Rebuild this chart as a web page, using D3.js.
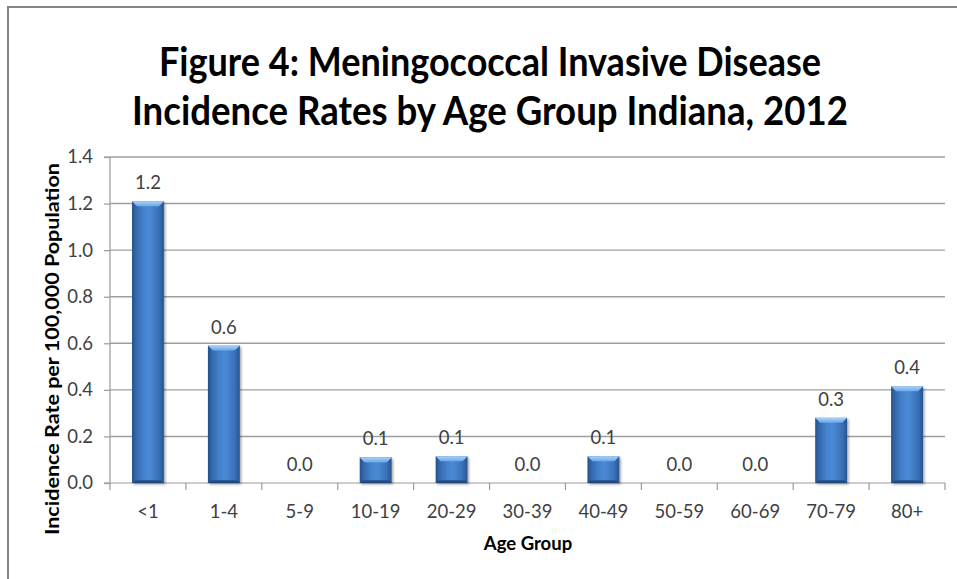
<!DOCTYPE html>
<html>
<head>
<meta charset="utf-8">
<script src="https://cdn.jsdelivr.net/npm/d3@7/dist/d3.min.js"></script>
<style>
  html, body { margin: 0; padding: 0; background: #fff; }
  svg { display: block; }
  text { font-family: Lato, "Open Sans", sans-serif; }
</style>
</head>
<body>
<svg id="chart" width="957" height="579"></svg>
<script>
// ---- data ----
const categories = ["<1", "1-4", "5-9", "10-19", "20-29", "30-39", "40-49", "50-59", "60-69", "70-79", "80+"];
const rates = [1.21, 0.59, 0.0, 0.11, 0.115, 0.0, 0.115, 0.0, 0.0, 0.28, 0.415];
const yTicks = [0, 0.2, 0.4, 0.6, 0.8, 1.0, 1.2, 1.4];
const titleLines = ["Figure 4: Meningococcal Invasive Disease", "Incidence Rates by Age Group Indiana, 2012"];
const xTitle = "Age Group";
const yTitle = "Incidence Rate per 100,000 Population";

// ---- layout ----
const W = 957, H = 579;
const plot = { left: 110, right: 945, top: 157, bottom: 483 };

const svg = d3.select("#chart");

const defs = svg.append("defs");
const grad = defs.append("linearGradient").attr("id", "barGrad")
  .attr("x1", "0%").attr("x2", "100%").attr("y1", "0%").attr("y2", "0%");
[["0%", "#24528f"], ["12%", "#3567aa"], ["35%", "#4382cd"], ["55%", "#4a8ad5"], ["85%", "#3a6fb6"], ["100%", "#26548f"]]
  .forEach(([o, c]) => grad.append("stop").attr("offset", o).attr("stop-color", c));
const topGrad = defs.append("linearGradient").attr("id", "topGrad")
  .attr("x1", "0%").attr("x2", "0%").attr("y1", "0%").attr("y2", "100%");
topGrad.append("stop").attr("offset", "0%").attr("stop-color", "#a9d2fa");
topGrad.append("stop").attr("offset", "100%").attr("stop-color", "#6aa6ea");
const botGrad = defs.append("linearGradient").attr("id", "botGrad")
  .attr("x1", "0%").attr("x2", "0%").attr("y1", "0%").attr("y2", "100%");
botGrad.append("stop").attr("offset", "0%").attr("stop-color", "#2a5a98");
botGrad.append("stop").attr("offset", "100%").attr("stop-color", "#1c4072");
const shadow = defs.append("filter").attr("id", "shadow")
  .attr("x", "-20%").attr("y", "-10%").attr("width", "150%").attr("height", "130%");
shadow.append("feDropShadow").attr("dx", 1.5).attr("dy", 1.5).attr("stdDeviation", 1.2)
  .attr("flood-color", "#000").attr("flood-opacity", 0.35);

// border
svg.append("path")
  .attr("d", `M8,${H} L8,7 L${W},7`)
  .attr("fill", "none").attr("stroke", "#868686").attr("stroke-width", 2);

// scales
const x = d3.scaleBand().domain(categories).range([plot.left, plot.right])
  .paddingInner(0.58).paddingOuter(0.29);
const y = d3.scaleLinear().domain([0, 1.4]).range([plot.bottom, plot.top]);

// gridlines
svg.append("g").selectAll("line").data(yTicks.filter(t => t > 0)).join("line")
  .attr("x1", plot.left).attr("x2", plot.right)
  .attr("y1", d => y(d)).attr("y2", d => y(d))
  .attr("stroke", "#9f9f9f").attr("stroke-width", 1.4);

// y axis
const yAxis = d3.axisLeft(y).tickValues(yTicks).tickFormat(d3.format(".1f")).tickSize(6).tickPadding(11);
const gy = svg.append("g").attr("transform", `translate(${plot.left},0)`).call(yAxis);
gy.select(".domain").attr("stroke", "#9a9a9a").attr("stroke-width", 1.2).attr("d", `M-6,${plot.top}H0V${plot.bottom}H-6`);
gy.selectAll(".tick line").attr("stroke", "#9a9a9a").attr("stroke-width", 1.2);
gy.selectAll(".tick text").attr("fill", "#404040").style("font-size", "18.5px").style("font-family", "Lato, sans-serif");

// x axis
const xAxis = d3.axisBottom(x).tickSize(0).tickPadding(0);
const gx = svg.append("g").attr("transform", `translate(0,${plot.bottom})`).call(xAxis);
gx.select(".domain").attr("stroke", "#9a9a9a").attr("stroke-width", 1.2).attr("d", `M${plot.left},0H${plot.right}`);
gx.selectAll(".tick text").attr("fill", "#404040").attr("dy", null).attr("y", 35)
  .style("font-size", "18.5px").style("font-family", "Lato, sans-serif");
// boundary tick marks
const bounds = d3.range(categories.length + 1).map(i => plot.left + i * (plot.right - plot.left) / categories.length);
gx.append("g").selectAll("line").data(bounds).join("line")
  .attr("x1", d => d).attr("x2", d => d).attr("y1", 0).attr("y2", 7)
  .attr("stroke", "#9a9a9a").attr("stroke-width", 1.2);

// bars
const bars = svg.append("g").selectAll("g").data(categories.map((c, i) => ({ c, v: rates[i] })))
  .join("g").filter(d => d.v > 0);
bars.append("rect")
  .attr("x", d => x(d.c)).attr("width", x.bandwidth())
  .attr("y", d => y(d.v)).attr("height", d => y(0) - y(d.v))
  .attr("fill", "url(#barGrad)").attr("filter", "url(#shadow)");
const bev = 5;
bars.append("path")
  .attr("d", d => {
    const x0 = x(d.c), x1 = x0 + x.bandwidth(), t = y(d.v);
    return `M${x0},${t}L${x1},${t}L${x1 - bev},${t + bev}L${x0 + bev},${t + bev}Z`;
  })
  .attr("fill", "url(#topGrad)");
bars.append("path")
  .attr("d", d => {
    const x0 = x(d.c), x1 = x0 + x.bandwidth(), b = y(0);
    return `M${x0},${b}L${x1},${b}L${x1 - 3},${b - 3}L${x0 + 3},${b - 3}Z`;
  })
  .attr("fill", "url(#botGrad)");

// data labels
svg.append("g").selectAll("text").data(categories.map((c, i) => ({ c, v: rates[i] }))).join("text")
  .attr("x", d => x(d.c) + x.bandwidth() / 2)
  .attr("y", d => y(d.v) - 12)
  .attr("text-anchor", "middle")
  .attr("fill", "#404040")
  .style("font-size", "18.5px")
  .text(d => d3.format(".1f")(d.v));

// title
svg.append("g").selectAll("text").data(titleLines).join("text")
  .attr("x", 490).attr("y", (d, i) => 76 + i * 49)
  .attr("text-anchor", "middle")
  .attr("fill", "#000")
  .attr("textLength", (d, i) => i === 0 ? 662 : 716)
  .attr("lengthAdjust", "spacingAndGlyphs")
  .style("font-size", "41px").style("font-weight", "bold")
  .text(d => d);

// axis titles
svg.append("text")
  .attr("x", 528).attr("y", 550)
  .attr("text-anchor", "middle").attr("fill", "#000")
  .style("font-size", "18.5px").style("font-weight", "bold")
  .text(xTitle);

svg.append("text")
  .attr("transform", "translate(59,349) rotate(-90)")
  .attr("text-anchor", "middle").attr("fill", "#000")
  .attr("textLength", 372).attr("lengthAdjust", "spacingAndGlyphs")
  .style("font-size", "18.5px").style("font-weight", "bold")
  .text(yTitle);
</script>
</body>
</html>
